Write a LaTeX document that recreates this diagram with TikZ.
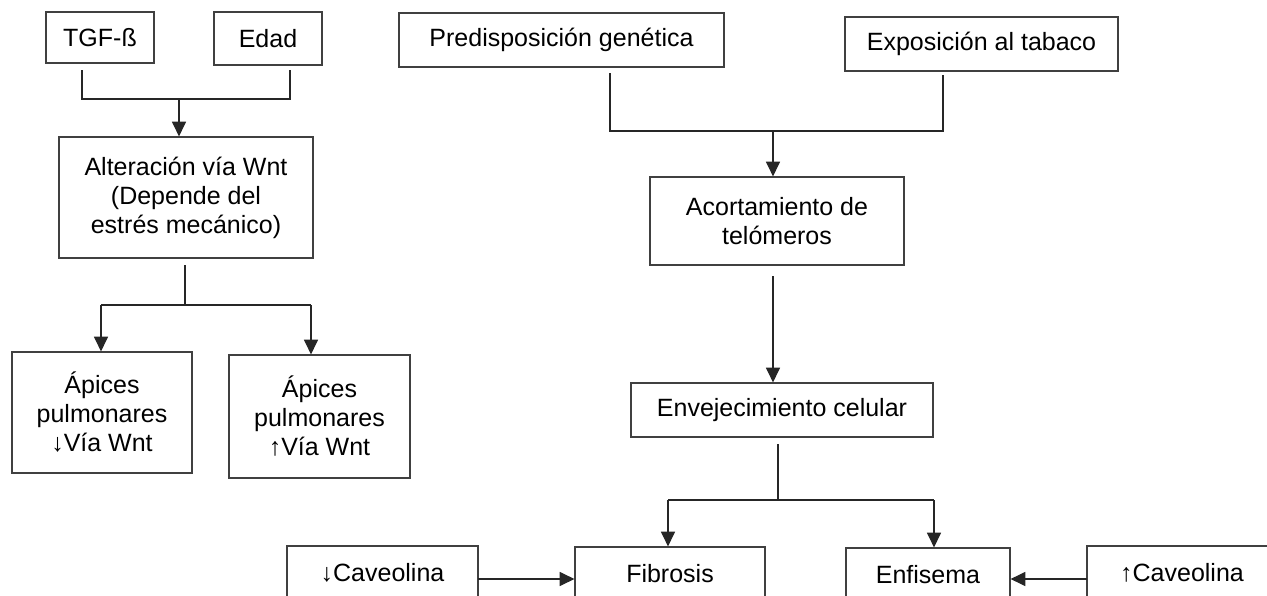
\documentclass[tikz,border=0pt]{standalone}
\usepackage{fontspec}
\setmainfont{Liberation Sans}
\usetikzlibrary{arrows.meta}

\begin{document}
\begin{tikzpicture}[x=0.75pt,y=-0.75pt,font=\fontsize{18.75}{21.75}\selectfont]
\useasboundingbox (0,0) rectangle (1267,596);
\begin{scope}[every node/.style={rectangle,draw=black!75,line width=0.9pt,align=center,inner sep=0pt}]
    \node[minimum width=81pt,minimum height=38.25pt] (tgf) at (100,37.5) {TGF-ß};
    \node[minimum width=81pt,minimum height=39.75pt] (edad) at (268,38.5) {Edad};
    \node[minimum width=190.5pt,minimum height=90.75pt] (alt) at (186,197.5) {Alteración vía Wnt\\(Depende del\\estrés mecánico)};
    \node[minimum width=135pt,minimum height=90.75pt] (apL) at (102,412.5) {Ápices\\pulmonares\\↓Vía Wnt};
    \node[minimum width=135.75pt,minimum height=92.25pt] (apR) at (319.5,416.5) {Ápices\\pulmonares\\↑Vía Wnt};
    \node[minimum width=243.75pt,minimum height=40.5pt] (pred) at (561.5,40) {Predisposición genética};
    \node[minimum width=204.75pt,minimum height=40.5pt] (exp) at (981.5,44) {Exposición al tabaco};
    \node[minimum width=190.5pt,minimum height=66pt] (acort) at (777,221) {Acortamiento de\\telómeros};
    \node[minimum width=226.5pt,minimum height=40.5pt] (env) at (782,410) {Envejecimiento celular};
    \node[minimum width=142.5pt,minimum height=40.5pt] (fib) at (670,574) {Fibrosis};
    \node[minimum width=123pt,minimum height=40.5pt] (enf) at (928,575) {Enfisema};
    \node[minimum width=143.25pt,minimum height=40.5pt] (cavL) at (382.5,573) {↓Caveolina};
    \node[minimum width=142.5pt,minimum height=40.5pt] (cavR) at (1182,573) {↑Caveolina};
\end{scope}
\coordinate (tgf-out) at (82,70);
\coordinate (edad-out) at (290,70);
\coordinate (wnt-in) at (179,99);
\coordinate (alt-out) at (185,265);
\coordinate (ap-split) at (185,305);
\coordinate (apL-in) at (101,305);
\coordinate (apR-in) at (311,305);
\coordinate (pred-out) at (610,73);
\coordinate (exp-out) at (943,75);
\coordinate (tel-in) at (773,131);
\coordinate (acort-out) at (773,276);
\coordinate (env-out) at (778,444);
\coordinate (env-split) at (778,500);
\coordinate (fib-in) at (668,500);
\coordinate (enf-in) at (934,500);
\coordinate (cavL-out) at (478,579);
\coordinate (cavR-out) at (1087,579);
\begin{scope}[>={Triangle[length=11pt,width=10.5pt]},
              every path/.style={draw=black!85,line width=0.9pt}]
    \draw (tgf-out) |- (wnt-in) -| (edad-out);
    \draw [->] (wnt-in) -- (wnt-in |- alt.north);
    \draw (alt-out) -- (ap-split);
    \draw (apL-in) -- (apR-in);
    \draw [->] (apL-in) -- (apL-in |- apL.north);
    \draw [->] (apR-in) -- (apR-in |- apR.north);
    \draw (pred-out) |- (tel-in) -| (exp-out);
    \draw [->] (tel-in) -- (tel-in |- acort.north);
    \draw [->] (acort-out) -- (acort-out |- env.north);
    \draw (env-out) -- (env-split);
    \draw (fib-in) -- (enf-in);
    \draw [->] (fib-in) -- (fib-in |- fib.north);
    \draw [->] (enf-in) -- (enf-in |- enf.north);
    \draw [->] (cavL-out) -- (cavL-out -| fib.west);
    \draw [->] (cavR-out) -- (cavR-out -| enf.east);
\end{scope}
\end{tikzpicture}
\end{document}
